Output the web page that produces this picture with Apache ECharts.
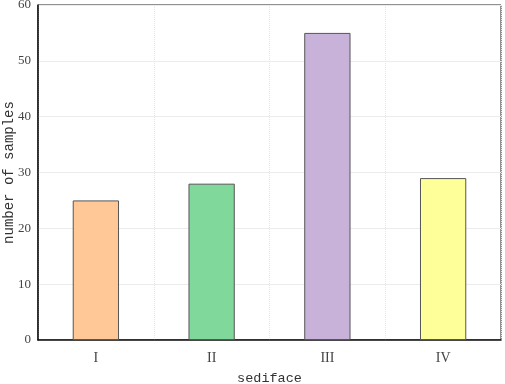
<!DOCTYPE html>
<html>
<head>
<meta charset="utf-8">
<script src="https://cdn.jsdelivr.net/npm/echarts@6/dist/echarts.min.js"></script>
<style>
  html, body { margin: 0; padding: 0; background: #fff; }
  #main { width: 505px; height: 384px; }
</style>
</head>
<body>
<div id="main"></div>
<script>
const categories = ['I', 'II', 'III', 'IV']
const counts = [25, 28, 55, 29]
const barColors = ['#FFC896', '#80D99B', '#C8B2D9', '#FFFF99']
const yTicks = [0, 10, 20, 30, 40, 50, 60]

const chart = echarts.init(document.getElementById('main'))
const serif = 'Liberation Serif'
const mono = 'Liberation Mono'

chart.setOption({
  animation: false,
  backgroundColor: '#fff',
  grid: {
    left: 38, right: 4, top: 5, bottom: 44,
    containLabel: false,
    outerBoundsMode: 'none',
    show: true, borderColor: '#222', borderWidth: 1
  },
  xAxis: [
    {
      type: 'category',
      data: categories,
      name: 'sediface',
      nameLocation: 'middle',
      nameGap: 31,
      nameMoveOverlap: false,
      nameTextStyle: { fontFamily: mono, fontSize: 13.5, color: '#333' },
      axisLine: { lineStyle: { color: '#111', width: 1.5 } },
      axisTick: { alignWithLabel: true, length: 5, lineStyle: { color: '#111' } },
      axisLabel: { fontFamily: serif, fontSize: 14, color: '#444', margin: 11 },
      splitLine: { show: false }
    },
    {
      type: 'category',
      data: categories,
      position: 'bottom',
      axisLine: { show: false },
      axisTick: { length: 3, lineStyle: { color: '#111' } },
      axisLabel: { show: false },
      splitLine: { show: true, lineStyle: { color: '#e6e6e6', type: 'dotted' } }
    }
  ],
  yAxis: {
    type: 'value',
    min: yTicks[0],
    max: yTicks[yTicks.length - 1],
    interval: 10,
    name: 'number of samples',
    nameLocation: 'middle',
    nameGap: 22,
    nameMoveOverlap: false,
    nameTextStyle: { fontFamily: mono, fontSize: 14, color: '#333' },
    axisLine: { show: true, lineStyle: { color: '#111', width: 1.5 } },
    axisTick: { show: false },
    axisLabel: { fontFamily: serif, fontSize: 13, color: '#444', margin: 7 },
    splitLine: { lineStyle: { color: '#ececec' } }
  },
  series: [{
    type: 'bar',
    xAxisIndex: 0,
    barWidth: '40%',
    data: counts.map((v, i) => ({
      value: v,
      itemStyle: { color: barColors[i] }
    })),
    itemStyle: { borderColor: '#555', borderWidth: 1 }
  }]
})
</script>
</body>
</html>
